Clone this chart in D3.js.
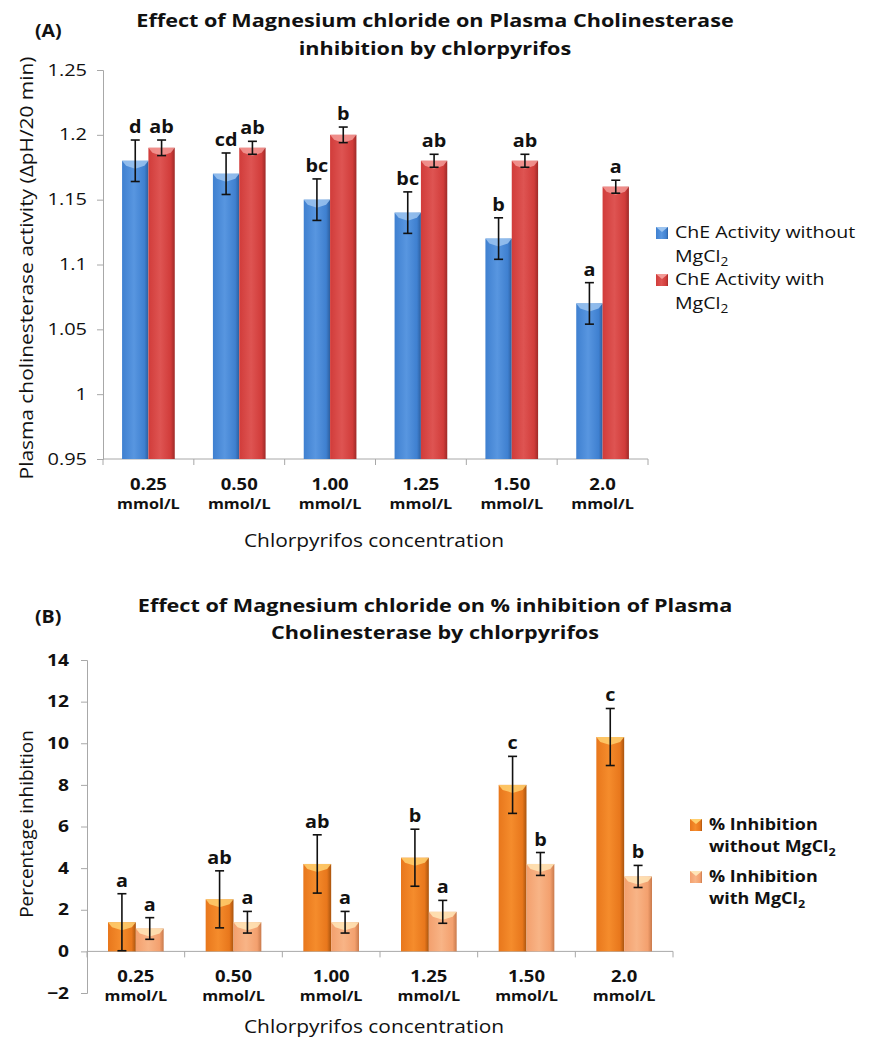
<!DOCTYPE html>
<html>
<head>
<meta charset="utf-8">
<title>MgCl2 and chlorpyrifos</title>
<script src="https://cdn.jsdelivr.net/npm/d3@7"></script>
<style>
  body { margin: 0; background: #fff; }
  text { font-family: "Open Sans", sans-serif; fill: #111; }
</style>
</head>
<body>
<script>
// data
const concentrations = ["0.25", "0.50", "1.00", "1.25", "1.50", "2.0"];

// (A) plasma ChE activity, dpH/20 min
const activityWithout = [1.18, 1.17, 1.15, 1.14, 1.12, 1.07];
const activityWithoutErr = [0.016, 0.016, 0.016, 0.016, 0.016, 0.016];
const activityWithoutLetters = ["d", "cd", "bc", "bc", "b", "a"];
const activityWith = [1.19, 1.19, 1.20, 1.18, 1.18, 1.16];
const activityWithErr = [0.006, 0.005, 0.006, 0.005, 0.005, 0.005];
const activityWithLetters = ["ab", "ab", "b", "ab", "ab", "a"];
const activityTicks = [0.95, 1, 1.05, 1.1, 1.15, 1.2, 1.25];
const activityTickLabels = ["0.95", "1", "1.05", "1.1", "1.15", "1.2", "1.25"];

// (B) % inhibition
const inhibWithout = [1.4, 2.5, 4.2, 4.5, 8.0, 10.3];
const inhibWithoutErr = [1.37, 1.37, 1.4, 1.37, 1.37, 1.37];
const inhibWithoutLetters = ["a", "ab", "ab", "b", "c", "c"];
const inhibWith = [1.1, 1.4, 1.4, 1.9, 4.2, 3.6];
const inhibWithErr = [0.52, 0.52, 0.52, 0.55, 0.55, 0.53];
const inhibWithLetters = ["a", "a", "a", "a", "b", "b"];
const inhibTicks = [-2, 0, 2, 4, 6, 8, 10, 12, 14];
const inhibTickLabels = ["\u22122", "0", "2", "4", "6", "8", "10", "12", "14"];

const svg = d3.select("body").append("svg")
    .attr("width", 872)
    .attr("height", 1040)

const defs = svg.append("defs")

// colour sets: edge, main, light centre, top bevel
const palettes = {
  blue:   ["#2d5f9f", "#3f80d0", "#5896e0", "#9cc4f0"],
  red:    ["#9e2a28", "#d13c3a", "#de5452", "#f39a96"],
  orange: ["#a9540e", "#e8771c", "#f58c2c", "#ffd070"],
  peach:  ["#c97a4c", "#f3a06e", "#f8b486", "#ffe6b8"]
}

Object.entries(palettes).forEach(([name, c]) => {
  const g = defs.append("linearGradient").attr("id", "grad-" + name)
      .attr("x1", "0%").attr("x2", "100%").attr("y1", "0%").attr("y2", "0%")
  g.append("stop").attr("offset", "0%").attr("stop-color", c[1])
  g.append("stop").attr("offset", "45%").attr("stop-color", c[2])
  g.append("stop").attr("offset", "85%").attr("stop-color", c[1])
  g.append("stop").attr("offset", "100%").attr("stop-color", c[0])
})

// the original figure's lettering is wide, so texts get stretched sideways
function label(sel, txt, x, y, size, opts = {}) {
  return sel.append("text").attr("x", x).attr("y", y)
      .attr("font-size", size)
      .attr("font-weight", opts.weight || "normal")
      .attr("text-anchor", opts.anchor || "start")
      .attr("data-sx", opts.sx || 1)
      .text(txt)
}

function subText(sel, parts, opts) {
  const t = sel.append("text")
      .attr("x", opts.x).attr("y", opts.y)
      .attr("font-size", opts.size)
      .attr("font-weight", opts.weight || "normal")
      .attr("data-sx", opts.sx || 1)
  parts.forEach(([s, sub]) => {
    const ts = t.append("tspan").text(s)
    if (sub) ts.attr("font-size", opts.size * 0.7).attr("dy", 4)
  })
  return t
}

function drawPanel(p) {
  const g = svg.append("g")

  const x0 = d3.scaleBand().domain(concentrations)
      .range(p.xRange).paddingInner(p.pad).paddingOuter(p.pad / 2)
  const x1 = d3.scaleBand().domain([0, 1]).range([0, x0.bandwidth()])
  const y = d3.scaleLinear().domain(p.yDomain).range(p.yRange)

  // titles
  p.title.forEach((line, i) => {
    label(g, line, 435, p.titleY + i * p.titleGap, 18, { weight: "bold", anchor: "middle", sx: 1.2 })
        .attr("fill", "#222")
  })
  label(g, p.tag, 35, p.tagY, 17, { weight: "bold", sx: 1.15 })

  // y axis
  const yAxis = d3.axisLeft(y).tickValues(p.ticks)
      .tickFormat((d, i) => p.tickLabels[i]).tickSize(6).tickPadding(p.tickPad)
  const ya = g.append("g").attr("transform", `translate(${p.xRange[0]},0)`).call(yAxis)
  ya.select(".domain").attr("stroke", "#a8a8a8")
  ya.selectAll(".tick line").attr("stroke", "#a8a8a8")
  ya.selectAll(".tick text").attr("font-size", p.tickSize)
      .attr("font-weight", p.tickWeight).attr("font-family", "Open Sans, sans-serif")
      .attr("fill", "#111").attr("data-sx", p.tickSx)

  // x axis line at baseline with boundary ticks
  const base = y(p.base)
  g.append("line").attr("x1", p.xRange[0]).attr("x2", p.xRange[1])
      .attr("y1", base).attr("y2", base).attr("stroke", "#a8a8a8")
  const bounds = d3.range(concentrations.length + 1).map(i => p.xRange[0] + i * x0.step())
  g.selectAll(".xt").data(bounds).join("line")
      .attr("x1", d => d).attr("x2", d => d)
      .attr("y1", base).attr("y2", base + 6).attr("stroke", "#a8a8a8")

  concentrations.forEach(c => {
    const cx = x0(c) + x0.bandwidth() / 2
    label(g, c, cx, p.catY - 1, 16.5, { weight: "bold", anchor: "middle", sx: 1.12 })
    label(g, "mmol/L", cx, p.catY + 18, 15, { weight: "bold", anchor: "middle", sx: 1.08 })
  })

  label(g, "Chlorpyrifos concentration", 374, p.xTitleY, 19, { anchor: "middle", sx: 1.1 })

  label(g, p.yTitle, 0, 0, 18, { anchor: "middle", sx: p.yTitleSx })
      .attr("transform", `translate(33,${p.yTitleMid}) rotate(-90)`)

  // bars
  p.series.forEach((s, si) => {
    const col = palettes[s.color]
    s.values.forEach((v, i) => {
      const bx = x0(concentrations[i]) + x1(si)
      const bw = x1.bandwidth()
      const top = y(v)
      g.append("rect").attr("x", bx).attr("y", top)
          .attr("width", bw).attr("height", base - top)
          .attr("fill", `url(#grad-${s.color})`)
      g.append("polygon")
          .attr("points", [[bx, top], [bx + bw, top], [bx + bw - 4, top + 5],
                           [bx + bw / 2, top + 8], [bx + 4, top + 5]].join(" "))
          .attr("fill", col[3]).attr("opacity", 0.85)

      // error bar
      const cx = bx + bw / 2
      const e1 = y(v + s.err[i]), e2 = y(v - s.err[i])
      g.append("line").attr("x1", cx).attr("x2", cx).attr("y1", e1).attr("y2", e2)
          .attr("stroke", "#111").attr("stroke-width", 1.6)
      ;[e1, e2].forEach(ey => {
        g.append("line").attr("x1", cx - 4.5).attr("x2", cx + 4.5).attr("y1", ey).attr("y2", ey)
            .attr("stroke", "#111").attr("stroke-width", 1.6)
      })
      label(g, s.letters[i], cx, e1 - 7, 18, { weight: "bold", anchor: "middle", sx: 1.1 })
    })
  })

  // legend
  p.legend.forEach(L => {
    const col = palettes[L.color]
    g.append("rect").attr("x", p.legX).attr("y", L.y - 11)
        .attr("width", 12).attr("height", 12).attr("fill", `url(#grad-${L.color})`)
    g.append("polygon")
        .attr("points", [[p.legX, L.y - 11], [p.legX + 12, L.y - 11], [p.legX + 6, L.y - 6]].join(" "))
        .attr("fill", col[3])
    L.lines.forEach((parts, k) => {
      subText(g, parts, { x: p.legX + 19, y: L.y + k * p.legGap, size: p.legSize,
                          weight: p.legWeight, sx: p.legSx })
    })
  })
}

drawPanel({
  tag: "(A)", tagY: 37,
  title: ["Effect of Magnesium chloride on Plasma Cholinesterase", "inhibition by chlorpyrifos"],
  titleY: 27, titleGap: 28,
  xRange: [103, 648], pad: 0.42,
  yDomain: [0.95, 1.25], yRange: [459, 70], base: 0.95,
  ticks: activityTicks, tickLabels: activityTickLabels,
  tickSize: 16, tickWeight: "normal", tickPad: 10, tickSx: 1.25,
  catY: 491, xTitleY: 547,
  yTitle: "Plasma cholinesterase activity (\u0394pH/20 min)", yTitleMid: 268, yTitleSx: 1.16,
  series: [
    { color: "blue", values: activityWithout, err: activityWithoutErr, letters: activityWithoutLetters },
    { color: "red", values: activityWith, err: activityWithErr, letters: activityWithLetters }
  ],
  legX: 656, legGap: 24, legSize: 17, legWeight: "normal", legSx: 1.15,
  legend: [
    { color: "blue", y: 238, lines: [[["ChE Activity without"]], [["MgCl"], ["2", true]]] },
    { color: "red", y: 285, lines: [[["ChE Activity with"]], [["MgCl"], ["2", true]]] }
  ]
})

drawPanel({
  tag: "(B)", tagY: 623,
  title: ["Effect of Magnesium chloride on % inhibition of Plasma", "Cholinesterase by chlorpyrifos"],
  titleY: 612, titleGap: 27,
  xRange: [87, 673], pad: 0.43,
  yDomain: [-2, 14], yRange: [993, 660], base: 0,
  ticks: inhibTicks, tickLabels: inhibTickLabels,
  tickSize: 16, tickWeight: "bold", tickPad: 12, tickSx: 1.2,
  catY: 983, xTitleY: 1033,
  yTitle: "Percentage inhibition", yTitleMid: 824, yTitleSx: 1.05,
  series: [
    { color: "orange", values: inhibWithout, err: inhibWithoutErr, letters: inhibWithoutLetters },
    { color: "peach", values: inhibWith, err: inhibWithErr, letters: inhibWithLetters }
  ],
  legX: 690, legGap: 22, legSize: 16, legWeight: "bold", legSx: 1.12,
  legend: [
    { color: "orange", y: 830, lines: [[["% Inhibition"]], [["without MgCl"], ["2", true]]] },
    { color: "peach", y: 882, lines: [[["% Inhibition"]], [["with MgCl"], ["2", true]]] }
  ]
})

// apply sideways stretch now that everything is laid out
svg.selectAll("text[data-sx]").each(function () {
  const f = +this.getAttribute("data-sx")
  if (f !== 1) {
    const len = this.getComputedTextLength()
    d3.select(this).attr("textLength", len * f).attr("lengthAdjust", "spacingAndGlyphs")
  }
})
</script>
</body>
</html>
